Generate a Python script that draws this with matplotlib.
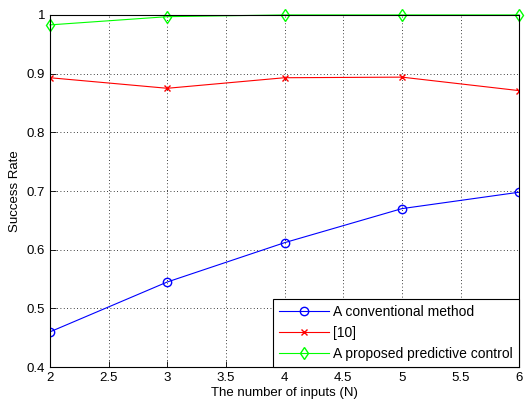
import numpy as np
import matplotlib
matplotlib.use('Agg')
import matplotlib.pyplot as plt

plt.rcParams['font.family'] = ['Liberation Sans', 'DejaVu Sans']
plt.rcParams['font.size'] = 9.5

# Data
inputs = [2, 3, 4, 5, 6]
conventional = [0.460, 0.545, 0.612, 0.670, 0.698]
ref10 = [0.893, 0.875, 0.893, 0.894, 0.871]
proposed = [0.983, 0.997, 1.0, 1.0, 1.0]

fig = plt.figure(figsize=(5.25, 4.03), dpi=100)
ax = fig.add_axes([0.095, 0.089, 0.894, 0.874])

ax.plot(inputs, conventional, color='blue', marker='o', markersize=6,
        markerfacecolor='none', lw=0.8, label='A conventional method')
ax.plot(inputs, ref10, color='red', marker='x', markersize=4,
        lw=0.8, label='[10]')
ax.plot(inputs, proposed, color='lime', marker='d', markersize=6,
        markerfacecolor='none', lw=0.8, label='A proposed predictive control',
        clip_on=False)

ax.set_xlim(2, 6)
ax.set_ylim(0.4, 1.0)
ax.set_xticks(np.arange(2, 6.01, 0.5))
ax.set_xticklabels(['2', '2.5', '3', '3.5', '4', '4.5', '5', '5.5', '6'])
ax.set_yticks(np.arange(0.4, 1.01, 0.1))
ax.set_yticklabels(['0.4', '0.5', '0.6', '0.7', '0.8', '0.9', '1'])
ax.tick_params(direction='in', length=4, width=0.6)
ax.grid(True, linestyle=(0, (1, 3)), color='black', lw=0.6)
for s in ax.spines.values():
    s.set_linewidth(0.8)

ax.set_xlabel('The number of inputs (N)', labelpad=2)
ax.set_ylabel('Success Rate', labelpad=4)

leg = ax.legend(loc='lower right', fancybox=False, framealpha=1,
                edgecolor='black', borderaxespad=0, handlelength=3.6,
                borderpad=0.45, labelspacing=0.5, handletextpad=0.3,
                fontsize=10)
leg.get_frame().set_linewidth(0.8)

fig.savefig('out.png', dpi=100)
